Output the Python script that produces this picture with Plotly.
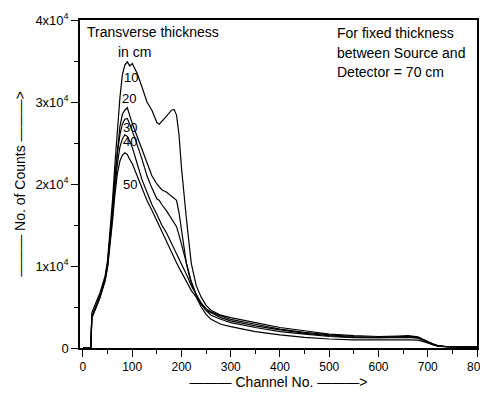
import plotly.graph_objects as go

channels = [0, 16, 18, 25, 30, 35, 40, 45, 50, 55, 60, 65, 70, 75, 80, 85, 90, 95, 100,
            110, 120, 130, 140, 150, 155, 160, 170, 180, 185, 190, 195, 200, 205, 210,
            215, 220, 230, 240, 250, 260, 280, 300, 350, 400, 450, 500, 550, 600, 640,
            660, 680, 690, 700, 710, 720, 740, 770, 800]

counts_10 = [0, 0, 4300, 5300, 6000, 6800, 7800, 8800, 10700, 14000, 18000, 22500, 27000,
             30500, 33300, 34500, 34900, 34400, 34700, 33500, 31800, 30000, 29000, 27500,
             27300, 27600, 28300, 29000, 29100, 28400, 26000, 22000, 18500, 15800, 13000,
             10300, 7600, 6200, 5200, 4600, 4000, 3700, 3100, 2500, 2100, 1700, 1500, 1400,
             1450, 1500, 1350, 1100, 800, 500, 300, 150, 100, 100]

counts_20 = [0, 0, 3800, 4800, 5600, 6500, 7500, 8500, 10300, 13500, 17000, 21000, 24500,
             27000, 28500, 29000, 29300, 28300, 27400, 25800, 24200, 22600, 21000, 20000,
             19600, 19300, 19000, 18500, 18300, 18000, 16500, 14500, 12400, 10300, 9000,
             7900, 6500, 5500, 4800, 4400, 3900, 3500, 2900, 2300, 1900, 1600, 1400, 1300,
             1350, 1400, 1300, 1050, 750, 450, 280, 150, 100, 100]

counts_30 = [0, 0, 3800, 4800, 5600, 6400, 7400, 8400, 10200, 13200, 16700, 20500, 23800,
             26000, 27300, 27900, 28000, 27300, 26500, 24800, 23000, 21000, 19500, 18200,
             18000, 17500, 16700, 15800, 15400, 14800, 13800, 12700, 11500, 10400, 9200,
             8100, 6500, 5300, 4600, 4300, 3700, 3300, 2700, 2200, 1800, 1500, 1300, 1250,
             1300, 1350, 1250, 1000, 700, 420, 260, 150, 100, 100]

counts_40 = [0, 0, 3700, 4700, 5500, 6300, 7300, 8300, 10000, 12800, 16000, 19500, 22500,
             24500, 25500, 26000, 25800, 25200, 24500, 22500, 20500, 19000, 17500, 16300,
             15600, 15000, 14000, 12800, 12200, 11600, 11000, 10300, 9600, 9000, 8300,
             7600, 6500, 5400, 4600, 4000, 3500, 3100, 2500, 2000, 1700, 1400, 1250, 1200,
             1250, 1300, 1200, 950, 650, 400, 250, 150, 100, 100]

counts_50 = [0, 0, 3700, 4600, 5400, 6200, 7200, 8200, 9800, 12500, 15500, 18800, 21300,
             22800, 23500, 23800, 23600, 23000, 22500, 21000, 19500, 18000, 16800, 15500,
             14800, 14200, 13000, 11500, 11000, 10400, 9800, 9200, 8600, 8000, 7500,
             7000, 6200, 5000, 4100, 3500, 2900, 2600, 2000, 1600, 1300, 1100, 1000, 950,
             1000, 1000, 950, 800, 600, 380, 230, 130, 100, 100]

series = [("10", counts_10), ("20", counts_20), ("30", counts_30),
          ("40", counts_40), ("50", counts_50)]

x_tickvals = [0, 100, 200, 300, 400, 500, 600, 700, 800]
x_ticktext = ["0", "100", "200", "300", "400", "500", "600", "700", "800"]
y_tickvals = [0, 10000, 20000, 30000, 40000]
y_ticktext = ["0", "1x10<sup>4</sup>", "2x10<sup>4</sup>", "3x10<sup>4</sup>", "4x10<sup>4</sup>"]

FONT = "Liberation Sans, Arial, sans-serif"

fig = go.Figure()
for name, vals in series:
    fig.add_trace(go.Scatter(x=channels, y=vals, mode="lines", name=name,
                             line=dict(color="black", width=1.2),
                             showlegend=False, hoverinfo="skip"))

# page body has an 8px margin, so the figure is offset by 8px
OFF = 8
W, H = 488 - OFF, 398 - 2 * OFF
PL, PR, PT, PB = 80, 477, 20, 348   # plot area in page pixels
L, T = PL - OFF, PT - OFF
R = W - (PR - OFF)
B = H - (PB - OFF)
pw, ph = PR - PL, PB - PT

def px(xp):
    return (xp - PL) / pw

def py(yp):
    return (PB - yp) / ph

annos = [
    ("Transverse thickness", 86, 32, "left", 14),
    ("in cm", 117, 52, "left", 14),
    ("For fixed thickness", 336, 33, "left", 14),
    ("between Source and", 336, 53, "left", 14),
    ("Detector = 70 cm", 336, 72, "left", 14),
    ("10", 131, 77, "center", 13),
    ("20", 129, 98, "center", 13),
    ("30", 130, 128, "center", 13),
    ("40", 130, 141, "center", 13),
    ("50", 130, 184, "center", 13),
]
for text, xp, yp, anchor, size in annos:
    fig.add_annotation(text=text, xref="paper", yref="paper", x=px(xp), y=py(yp),
                       xanchor=anchor, yanchor="middle", showarrow=False,
                       borderpad=0, font=dict(family=FONT, size=size, color="black"))

fig.update_layout(
    width=W, height=H, autosize=False,
    margin=dict(l=L, r=R, t=T, b=B, pad=0, autoexpand=False),
    paper_bgcolor="white", plot_bgcolor="white",
    font=dict(family=FONT, size=12, color="black"),
    xaxis=dict(range=[-6, 800], tickvals=x_tickvals, ticktext=x_ticktext,
               ticks="outside", ticklen=7, tickwidth=1.2, tickcolor="black",
               minor=dict(dtick=50, tick0=0, ticks="outside", ticklen=4, tickwidth=1, tickcolor="black"),
               showline=True, linecolor="black", linewidth=1.5, mirror=True,
               showgrid=False, zeroline=False, automargin=False,
               tickfont=dict(family=FONT, size=12),
               title=dict(text="——— Channel No. ———>", font=dict(family=FONT, size=14), standoff=11)),
    yaxis=dict(range=[0, 40000], tickvals=y_tickvals, ticktext=y_ticktext,
               ticks="outside", ticklen=7, tickwidth=1.2, tickcolor="black",
               minor=dict(dtick=5000, tick0=0, ticks="outside", ticklen=4, tickwidth=1, tickcolor="black"),
               showline=True, linecolor="black", linewidth=1.5, mirror=True,
               showgrid=False, zeroline=False, automargin=False,
               tickfont=dict(family=FONT, size=13),
               title=dict(text="——— No. of Counts ———>", font=dict(family=FONT, size=14), standoff=6)),
)

fig.write_html("out.html")
